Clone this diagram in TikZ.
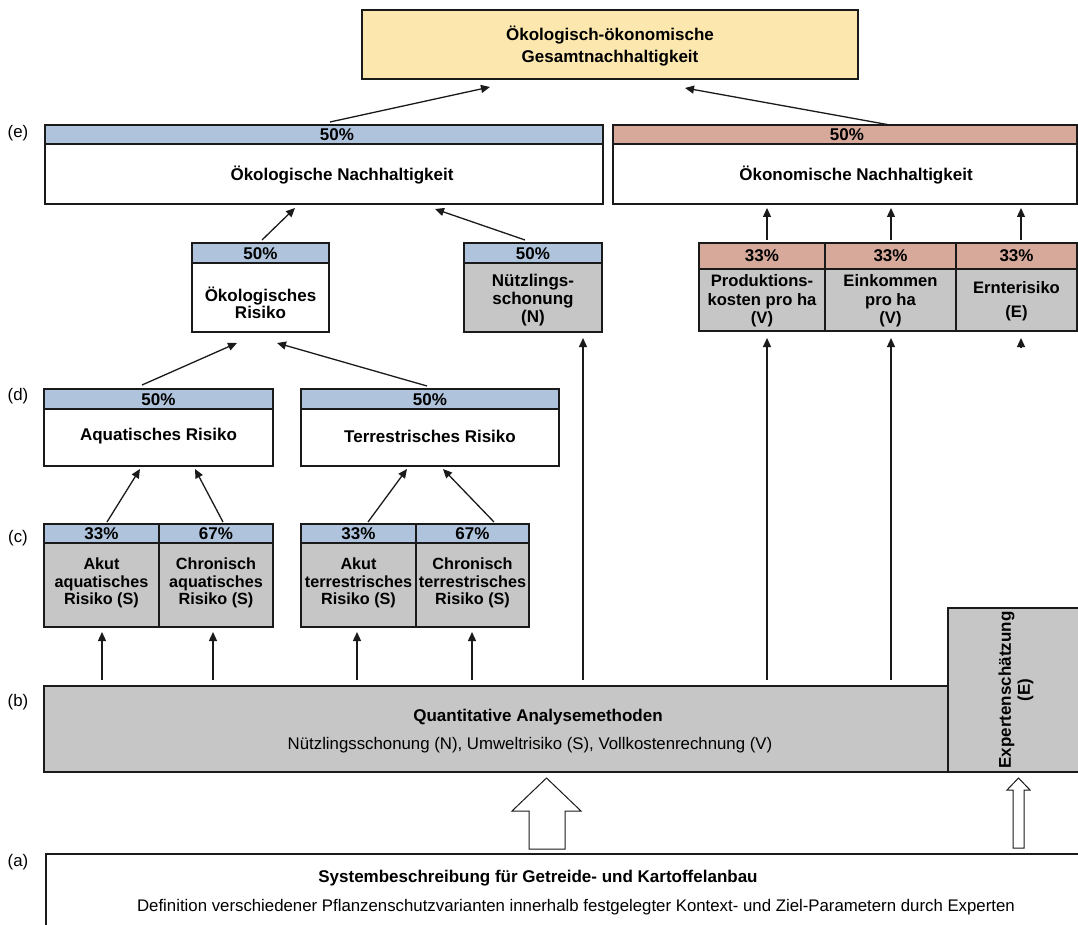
\documentclass[tikz,border=0pt]{standalone}
\usepackage{fontspec}
\setmainfont{Liberation Sans}
\usetikzlibrary{arrows.meta,calc}
\definecolor{hblue}{HTML}{AFC3DC}
\definecolor{hred}{HTML}{D6A99B}
\definecolor{gbody}{HTML}{C6C6C6}
\definecolor{ybox}{HTML}{FCE8AE}
\definecolor{bord}{HTML}{1A1A1A}
\newcommand{\mkbox}[6]{%
  \node[boxst, fill=#6, minimum width={(#4-#2)*1pt}, minimum height={(#5-#3)*1pt}] (#1) at ({(#2+#4)/2},{(#3+#5)/2}) {};}
\begin{document}
\begin{tikzpicture}[x=1pt,y=-1pt,
  boxst/.style={draw=bord, line width=1.2pt, inner sep=0pt, outer sep=0pt},
  txt/.style={inner sep=0pt, align=center, font=\fontsize{17}{17.5}\selectfont\bfseries},
  ctxt/.style={inner sep=0pt, align=center, font=\fontsize{16.2}{17.5}\selectfont\bfseries},
  rtxt/.style={inner sep=0pt, align=center, font=\fontsize{16.8}{17.5}\selectfont},
  arr/.style={line width=1.3pt, draw=bord, -{Triangle[length=9pt,width=8pt]}},
  hollow/.style={draw=bord, line width=1pt, fill=white}]
\useasboundingbox (0,0) rectangle (1078,925);
\clip (0,0) rectangle (1078,925);

% top
\mkbox{top}{362}{10}{858}{79}{ybox}
\node[txt, font=\fontsize{17}{22}\selectfont\bfseries] (toptx) at (610,46) {Ökologisch-ökonomische\\Gesamtnachhaltigkeit};

% (e)
\mkbox{enlh}{45}{125}{603}{144}{hblue}
\mkbox{enlb}{45}{144}{603}{204}{white}
\mkbox{enrh}{613}{125}{1077}{144}{hred}
\mkbox{enrb}{613}{144}{1077}{204}{white}
\node[txt] (enlp) at (337,135) {50\%};
\node[txt] (enlt) at (342,175) {Ökologische Nachhaltigkeit};
\node[txt] (enrp) at (847,135) {50\%};
\node[txt] (enrt) at (856,175) {Ökonomische Nachhaltigkeit};

% second level
\mkbox{okrh}{192}{243}{329}{263}{hblue}
\mkbox{okrb}{192}{263}{329}{332}{white}
\node[txt] (okrp) at (260.5,253.5) {50\%};
\node[txt, font=\fontsize{17}{17}\selectfont\bfseries] (okrt) at (260.5,303) {Ökologisches\\Risiko};
\mkbox{nuh}{464}{243}{602}{263}{hblue}
\mkbox{nub}{464}{263}{602}{332}{gbody}
\node[txt] (nup) at (533,253.5) {50\%};
\node[txt, font=\fontsize{17}{18}\selectfont\bfseries] (nut) at (533,300) {Nützlings-\\schonung\\(N)};

\mkbox{e1h}{699}{243}{825}{269}{hred}
\mkbox{e1b}{699}{269}{825}{331}{gbody}
\mkbox{e2h}{825}{243}{956}{269}{hred}
\mkbox{e2b}{825}{269}{956}{331}{gbody}
\mkbox{e3h}{956}{243}{1077}{269}{hred}
\mkbox{e3b}{956}{269}{1077}{331}{gbody}
\node[txt] (e1p) at (762,256) {33\%};
\node[txt] (e2p) at (890.5,256) {33\%};
\node[txt] (e3p) at (1016.5,256) {33\%};
\node[txt, font=\fontsize{16.6}{18.5}\selectfont\bfseries] (e1t) at (762,301) {Produktions-\\kosten pro ha\\(V)};
\node[txt, font=\fontsize{16.6}{18.5}\selectfont\bfseries] (e2t) at (890.5,301) {Einkommen\\pro ha\\(V)};
\node[txt, font=\fontsize{16.6}{24}\selectfont\bfseries] (e3t) at (1016.5,301) {Ernterisiko\\(E)};

% (d)
\mkbox{dlh}{44}{389}{273}{409}{hblue}
\mkbox{dlb}{44}{409}{273}{466}{white}
\mkbox{drh}{301}{389}{559}{409}{hblue}
\mkbox{drb}{301}{409}{559}{466}{white}
\node[txt] (dlp) at (158.5,399.5) {50\%};
\node[txt] (dlt) at (158.5,436) {Aquatisches Risiko};
\node[txt] (drp) at (430,399.5) {50\%};
\node[txt] (drt) at (430,436) {Terrestrisches Risiko};

% (c)
\mkbox{c1h}{44}{524}{159}{543}{hblue}
\mkbox{c1b}{44}{543}{159}{627}{gbody}
\mkbox{c2h}{159}{524}{273}{543}{hblue}
\mkbox{c2b}{159}{543}{273}{627}{gbody}
\mkbox{c3h}{301}{524}{416}{543}{hblue}
\mkbox{c3b}{301}{543}{416}{627}{gbody}
\mkbox{c4h}{416}{524}{529}{543}{hblue}
\mkbox{c4b}{416}{543}{529}{627}{gbody}
\node[txt] (c1p) at (101.5,534) {33\%};
\node[txt] (c2p) at (216,534) {67\%};
\node[txt] (c3p) at (358.5,534) {33\%};
\node[txt] (c4p) at (472.5,534) {67\%};
\node[ctxt] (c1t) at (101.5,583) {Akut\\aquatisches\\Risiko (S)};
\node[ctxt] (c2t) at (216,583) {Chronisch\\aquatisches\\Risiko (S)};
\node[ctxt] (c3t) at (358.5,583) {Akut\\terrestrisches\\Risiko (S)};
\node[ctxt] (c4t) at (472.5,583) {Chronisch\\terrestrisches\\Risiko (S)};

% (b)
\mkbox{quant}{44}{686}{948}{772}{gbody}
\mkbox{expert}{948}{608}{1082}{772}{gbody}
\node[txt] (qt1) at (538,717) {Quantitative Analysemethoden};
\node[rtxt] (qt2) at (530,745) {Nützlingsschonung (N), Umweltrisiko (S), Vollkostenrechnung (V)};
\node[txt, rotate=90, font=\fontsize{17}{19}\selectfont\bfseries] (ext) at (1016,690) {Expertenschätzung\\(E)};

% (a)
\mkbox{sys}{46}{854}{1090}{940}{white}
\node[txt] (st1) at (538,878) {Systembeschreibung für Getreide- und Kartoffelanbau};
\node[rtxt] (st2) at (576,907) {Definition verschiedener Pflanzenschutzvarianten innerhalb festgelegter Kontext- und Ziel-Parametern durch Experten};

% row labels
\node[rtxt] (le) at (18,133) {(e)};
\node[rtxt] (ld) at (18,396) {(d)};
\node[rtxt] (lc) at (18,538) {(c)};
\node[rtxt] (lb) at (18,702) {(b)};
\node[rtxt] (la) at (18,862) {(a)};

% connectors
\draw[arr] ($(enlh.north)+(6,-3)$) -- ($(top.south)+(-120,8)$);
\draw[arr] ($(enrh.north)+(45,0)$) -- ($(top.south)+(75,9)$);
\draw[arr] ($(okrh.north)+(1.5,-3)$) -- ($(enlb.south)+(-29,4)$);
\draw[arr] ($(nuh.north)+(-8,-3)$) -- ($(enlb.south)+(111,5)$);
\draw[arr] ($(e1h.north)+(5,-3)$) -- ($(e1h.north |- enrb.south)+(5,4)$);
\draw[arr] ($(e2h.north)+(0.5,-3)$) -- ($(e2h.north |- enrb.south)+(0.5,4)$);
\draw[arr] ($(e3h.north)+(4.5,-3)$) -- ($(e3h.north |- enrb.south)+(4.5,4)$);
\draw[arr] ($(dlh.north)+(-16.5,-4)$) -- ($(okrb.south)+(-23.5,11)$);
\draw[arr] ($(drh.north)+(-3,-3)$) -- ($(okrb.south)+(16.5,11)$);
\draw[arr] ($(c1h.north)+(5.5,-2)$) -- ($(dlb.south)+(-18.5,3)$);
\draw[arr] ($(c2h.north)+(7,-2)$) -- ($(dlb.south)+(36.5,3)$);
\draw[arr] ($(c3h.north)+(9.5,-2)$) -- ($(drb.south)+(-23,3)$);
\draw[arr] ($(c4h.north)+(21.5,-2)$) -- ($(drb.south)+(13,3)$);
\draw[arr] ($(c1b.south |- quant.north)+(0.5,-6)$) -- ($(c1b.south)+(0.5,5)$);
\draw[arr] ($(c2b.south |- quant.north)+(-3,-6)$) -- ($(c2b.south)+(-3,5)$);
\draw[arr] ($(c3b.south |- quant.north)+(-1.5,-6)$) -- ($(c3b.south)+(-1.5,5)$);
\draw[arr] ($(c4b.south |- quant.north)+(-0.5,-6)$) -- ($(c4b.south)+(-0.5,5)$);
\draw[arr] ($(nub.south |- quant.north)+(50,-6)$) -- ($(nub.south)+(50,6)$);
\draw[arr] ($(e1b.south |- quant.north)+(5,-6)$) -- ($(e1b.south)+(5,7)$);
\draw[arr] ($(e2b.south |- quant.north)+(0.5,-6)$) -- ($(e2b.south)+(0.5,7)$);
\coordinate (e3foot) at ($(e3b.south)+(4.5,16)$);
\draw[arr] (e3foot) -- ($(e3b.south)+(4.5,7)$);

% hollow block arrows from (a) to (b)
\draw[hollow] (529,849) -- (529,811) -- (512,811) -- (546.5,778) -- (581,811) -- (565,811) -- (565,849) -- cycle;
\draw[hollow] (1013,848) -- (1013,790) -- (1007,790) -- (1018.5,778) -- (1030,790) -- (1024,790) -- (1024,848) -- cycle;
\end{tikzpicture}
\end{document}
